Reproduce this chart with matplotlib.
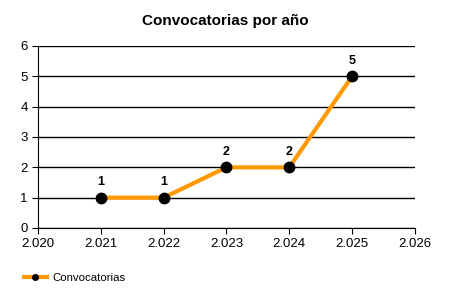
import matplotlib
matplotlib.use("Agg")
import matplotlib.pyplot as plt
from matplotlib.lines import Line2D

plt.rcParams['font.family'] = ['Liberation Sans', 'DejaVu Sans']

years = [2021, 2022, 2023, 2024, 2025]
counts = [1, 1, 2, 2, 5]
xticks = [2020, 2021, 2022, 2023, 2024, 2025, 2026]
xlabels = ['2.020', '2.021', '2.022', '2.023', '2.024', '2.025', '2.026']

fig = plt.figure(figsize=(4.5, 3), dpi=100)
ax = fig.add_axes([0.0844, 0.24, 0.8376, 0.6067])

ax.plot(years, counts, color='#FF9900', lw=3, marker='o', ms=7.5,
        mfc='black', mec='black', zorder=3)
for x, y in zip(years, counts):
    ax.annotate(str(y), (x, y), xytext=(0, 7), textcoords='offset points',
                ha='center', va='bottom', fontsize=9, fontweight='bold')

ax.set_xlim(2020, 2026)
ax.set_ylim(0, 6)
ax.set_xticks(xticks)
ax.set_xticklabels(xlabels)
ax.set_yticks(range(7))
ax.yaxis.grid(True, color='black', lw=1)
ax.set_axisbelow(True)
for s in ['top', 'right']:
    ax.spines[s].set_visible(False)
ax.tick_params(labelsize=9.5, length=4, direction='out')

fig.suptitle('Convocatorias por año', x=0.5, y=0.955, fontsize=11, fontweight='bold')

handle = Line2D([0], [0], color='#FF9900', lw=3, marker='o', ms=4,
                mfc='black', mec='black')
fig.legend([handle], ['Convocatorias'], loc='center left', bbox_to_anchor=(0.03, 0.073),
           frameon=False, fontsize=8.2, handlelength=2, handletextpad=0.5)

fig.savefig('out.png', dpi=100)
